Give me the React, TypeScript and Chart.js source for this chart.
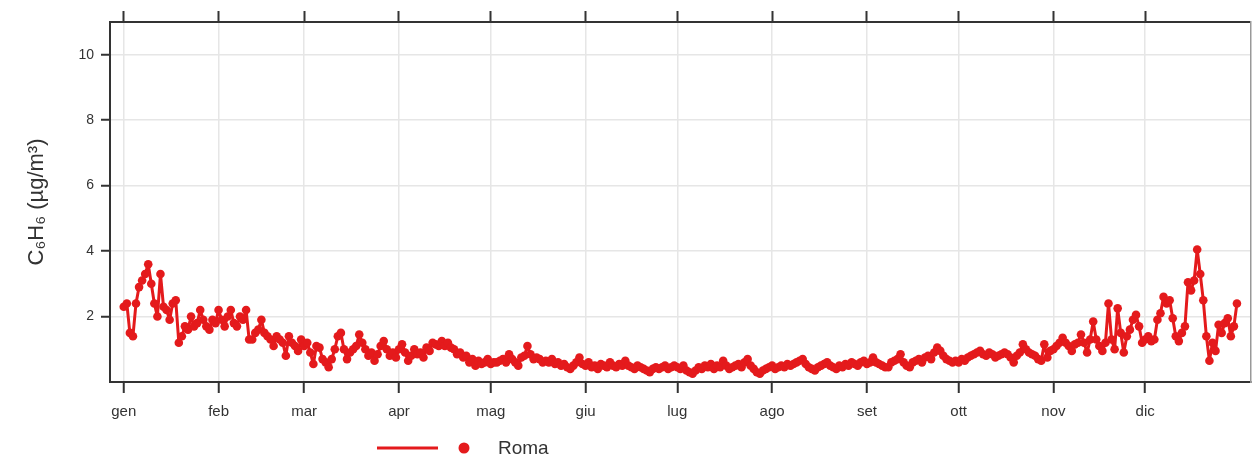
import React, { useEffect, useRef } from "react";
import { Chart, registerables } from "chart.js";

Chart.register(...registerables);

const monthLabels = ["gen", "feb", "mar", "apr", "mag", "giu", "lug", "ago", "set", "ott", "nov", "dic"];
const monthStarts = [0, 31, 59, 90, 120, 151, 181, 212, 243, 273, 304, 334];
const yTicks = [2, 4, 6, 8, 10];
const seriesName = "Roma";

const jan = [2.3, 2.4, 1.5, 1.4, 2.4, 2.9, 3.1, 3.3, 3.6, 3.0, 2.4, 2.0, 3.3, 2.3, 2.2, 1.9, 2.4, 2.5, 1.2, 1.4, 1.7, 1.6, 2.0, 1.7, 1.8, 2.2, 1.9, 1.7, 1.6, 1.9, 1.8];
const feb = [2.2, 1.9, 1.7, 2.0, 2.2, 1.8, 1.7, 2.0, 1.9, 2.2, 1.3, 1.3, 1.5, 1.6, 1.9, 1.5, 1.4, 1.3, 1.1, 1.4, 1.3, 1.2, 0.8, 1.4, 1.2, 1.1, 0.95, 1.3];
const mar = [1.1, 1.2, 0.9, 0.55, 1.1, 1.05, 0.7, 0.6, 0.45, 0.7, 1.0, 1.4, 1.5, 1.0, 0.7, 0.9, 1.0, 1.1, 1.45, 1.2, 1.0, 0.8, 0.9, 0.65, 0.85, 1.1, 1.25, 1.0, 0.8, 0.9, 0.75];
const apr = [1.0, 1.15, 0.9, 0.65, 0.8, 1.0, 0.85, 0.9, 0.75, 1.05, 0.95, 1.2, 1.15, 1.1, 1.25, 1.1, 1.2, 1.05, 1.0, 0.85, 0.9, 0.75, 0.8, 0.6, 0.7, 0.5, 0.65, 0.55, 0.6, 0.7];
const may = [0.55, 0.6, 0.6, 0.65, 0.7, 0.6, 0.85, 0.7, 0.6, 0.5, 0.75, 0.8, 1.1, 0.85, 0.7, 0.75, 0.7, 0.6, 0.65, 0.6, 0.7, 0.55, 0.6, 0.5, 0.55, 0.45, 0.4, 0.5, 0.6, 0.75, 0.55];
const jun = [0.5, 0.6, 0.45, 0.5, 0.4, 0.55, 0.5, 0.45, 0.6, 0.5, 0.45, 0.55, 0.5, 0.65, 0.5, 0.45, 0.4, 0.5, 0.45, 0.4, 0.35, 0.3, 0.4, 0.45, 0.4, 0.45, 0.5, 0.4, 0.45, 0.5];
const jul = [0.45, 0.4, 0.5, 0.35, 0.3, 0.25, 0.35, 0.45, 0.4, 0.5, 0.45, 0.55, 0.4, 0.5, 0.45, 0.65, 0.5, 0.4, 0.45, 0.5, 0.55, 0.45, 0.6, 0.7, 0.5, 0.4, 0.3, 0.25, 0.35, 0.4, 0.45];
const aug = [0.5, 0.4, 0.45, 0.5, 0.45, 0.55, 0.5, 0.55, 0.6, 0.65, 0.7, 0.55, 0.45, 0.4, 0.35, 0.45, 0.5, 0.55, 0.6, 0.5, 0.45, 0.4, 0.5, 0.45, 0.55, 0.5, 0.6, 0.55, 0.5, 0.6, 0.65];
const sep = [0.55, 0.6, 0.75, 0.6, 0.55, 0.5, 0.45, 0.45, 0.6, 0.65, 0.7, 0.85, 0.6, 0.5, 0.45, 0.6, 0.65, 0.7, 0.6, 0.75, 0.8, 0.7, 0.9, 1.05, 0.95, 0.8, 0.7, 0.65, 0.6, 0.65];
const oct = [0.6, 0.7, 0.65, 0.75, 0.8, 0.85, 0.9, 0.95, 0.85, 0.8, 0.9, 0.85, 0.75, 0.8, 0.85, 0.9, 0.85, 0.75, 0.6, 0.8, 0.9, 1.15, 1.0, 0.9, 0.85, 0.8, 0.7, 0.65, 1.15, 0.75, 0.95];
const nov = [1.0, 1.1, 1.2, 1.35, 1.2, 1.1, 0.95, 1.15, 1.2, 1.45, 1.2, 0.9, 1.3, 1.85, 1.3, 1.1, 0.95, 1.2, 2.4, 1.3, 1.0, 2.25, 1.5, 0.9, 1.4, 1.6, 1.9, 2.05, 1.7, 1.2];
const dec = [1.3, 1.4, 1.25, 1.3, 1.9, 2.1, 2.6, 2.4, 2.5, 1.95, 1.4, 1.25, 1.5, 1.7, 3.05, 2.8, 3.1, 4.05, 3.3, 2.5, 1.4, 0.65, 1.2, 0.95, 1.75, 1.5, 1.8, 1.95, 1.4, 1.7, 2.4];

const romaValues = [...jan, ...feb, ...mar, ...apr, ...may, ...jun, ...jul, ...aug, ...sep, ...oct, ...nov, ...dec];

const RED = "#e41a1c";
const AXIS = "#333333";
const GRID = "#e6e6e6";
const FONT = "'Liberation Sans', Arial, sans-serif";

const legendPlugin = {
  id: "customLegend",
  afterDraw(chart: any) {
    const ctx = chart.ctx;
    ctx.save();
    ctx.strokeStyle = RED;
    ctx.lineWidth = 3;
    ctx.beginPath();
    ctx.moveTo(377, 448);
    ctx.lineTo(438, 448);
    ctx.stroke();
    ctx.fillStyle = RED;
    ctx.beginPath();
    ctx.arc(464, 448, 5.5, 0, Math.PI * 2);
    ctx.fill();
    ctx.fillStyle = AXIS;
    ctx.font = `19px ${FONT}`;
    ctx.textBaseline = "middle";
    ctx.textAlign = "left";
    ctx.fillText(seriesName, 498, 449);
    ctx.restore();
  },
};

export default function App() {
  const ref = useRef<HTMLCanvasElement | null>(null);
  useEffect(() => {
    if (!ref.current) return;
    const setMonthTicks = (scale: any) => {
      scale.ticks = monthStarts.map((v) => ({ value: v }));
    };
    const chart = new Chart(ref.current, {
      type: "line",
      data: {
        datasets: [
          {
            label: seriesName,
            data: romaValues.map((v, i) => ({ x: i, y: v })),
            borderColor: RED,
            backgroundColor: RED,
            borderWidth: 3,
            borderJoinStyle: "round",
            borderCapStyle: "round",
            pointRadius: 4.3,
            pointBorderWidth: 0,
            pointBackgroundColor: RED,
            tension: 0,
            xAxisID: "x",
            yAxisID: "y",
          },
        ],
      },
      options: {
        animation: false,
        responsive: false,
        layout: { padding: { left: 0, right: 0, top: 0, bottom: 0 } },
        plugins: { legend: { display: false }, tooltip: { enabled: false } },
        scales: {
          x: {
            type: "linear",
            position: "bottom",
            min: -4.5,
            max: 368.5,
            afterBuildTicks: setMonthTicks,
            afterFit: (s: any) => {
              s.height = 80;
            },
            ticks: {
              autoSkip: false,
              maxRotation: 0,
              padding: 10,
              color: AXIS,
              font: { size: 15, family: FONT },
              callback: (v: any) => monthLabels[monthStarts.indexOf(Number(v))] ?? "",
            },
            grid: { color: GRID, lineWidth: 1.5, tickColor: AXIS, tickLength: 11, tickWidth: 2 },
            border: { color: AXIS, width: 2 },
          },
          x2: {
            type: "linear",
            position: "top",
            min: -4.5,
            max: 368.5,
            afterBuildTicks: setMonthTicks,
            afterFit: (s: any) => {
              s.height = 22;
            },
            ticks: { display: false },
            grid: { drawOnChartArea: false, tickColor: AXIS, tickLength: 11, tickWidth: 2 },
            border: { color: AXIS, width: 2 },
          },
          y: {
            type: "linear",
            position: "left",
            min: 0,
            max: 11,
            afterBuildTicks: (s: any) => {
              s.ticks = yTicks.map((v) => ({ value: v }));
            },
            afterFit: (s: any) => {
              s.width = 110;
            },
            ticks: { padding: 7, color: AXIS, font: { size: 14, family: FONT } },
            grid: { color: GRID, lineWidth: 1.5, tickColor: AXIS, tickLength: 9, tickWidth: 2 },
            border: { color: AXIS, width: 2 },
            title: {
              display: true,
              text: "C₆H₆ (µg/m³)",
              color: AXIS,
              font: { size: 22, family: FONT },
              padding: { top: 24, bottom: 0 },
            },
          },
          y2: {
            type: "linear",
            position: "right",
            min: 0,
            max: 11,
            afterFit: (s: any) => {
              s.width = 1;
            },
            ticks: { display: false },
            grid: { drawOnChartArea: false, drawTicks: false },
            border: { color: "#999999", width: 1.5 },
          },
        },
      },
      plugins: [legendPlugin],
    });
    return () => chart.destroy();
  }, []);
  return (
    <div style={{ position: "absolute", left: 0, top: 0, width: 1255, height: 462, background: "#fff" }}>
      <canvas ref={ref} width={1255} height={462} />
    </div>
  );
}
